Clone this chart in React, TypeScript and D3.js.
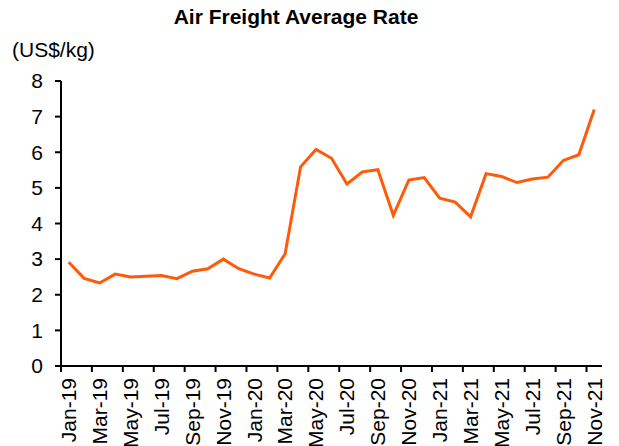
import React from "react";
import * as d3 from "d3";

const months = [
  "Jan-19","Feb-19","Mar-19","Apr-19","May-19","Jun-19","Jul-19","Aug-19","Sep-19","Oct-19","Nov-19","Dec-19",
  "Jan-20","Feb-20","Mar-20","Apr-20","May-20","Jun-20","Jul-20","Aug-20","Sep-20","Oct-20","Nov-20","Dec-20",
  "Jan-21","Feb-21","Mar-21","Apr-21","May-21","Jun-21","Jul-21","Aug-21","Sep-21","Oct-21","Nov-21",
];
const rates = [
  2.91, 2.46, 2.33, 2.58, 2.50, 2.52, 2.54, 2.45, 2.66, 2.73, 3.00, 2.73,
  2.58, 2.47, 3.15, 5.59, 6.08, 5.83, 5.11, 5.45, 5.51, 4.23, 5.22, 5.29,
  4.71, 4.60, 4.19, 5.40, 5.32, 5.15, 5.25, 5.30, 5.77, 5.93, 7.20,
];
const yTicks = [0, 1, 2, 3, 4, 5, 6, 7, 8];
const title = "Air Freight Average Rate";
const unitLabel = "(US$/kg)";

const W = 619, H = 446;
const left = 61, right = 602, top = 81, bottom = 366;
const font = "'Liberation Sans', Arial, sans-serif";

export default function App() {
  const x = d3.scaleBand<string>().domain(months).range([left, right]).paddingInner(0).paddingOuter(0);
  const y = d3.scaleLinear().domain([0, 8]).range([bottom, top]);
  const line = d3.line<number>()
    .x((_, i) => (x(months[i]) as number) + x.bandwidth() / 2)
    .y((d) => y(d));
  const tickIdx = months.map((_, i) => i).filter((i) => i % 2 === 0);
  return (
    <svg width={W} height={H} style={{ position: "absolute", left: 0, top: 0 }} fontFamily={font}>
      <rect width={W} height={H} fill="#fff" />
      <text x={296} y={24} textAnchor="middle" fontWeight="bold" fontSize={21}>{title}</text>
      <text x={12} y={57} fontSize={21}>{unitLabel}</text>
      {yTicks.map((t) => (
        <g key={t}>
          <line x1={left - 6} x2={left} y1={y(t)} y2={y(t)} stroke="#000" strokeWidth={2} />
          <text x={43} y={y(t)} dy="0.35em" textAnchor="end" fontSize={21}>{t}</text>
        </g>
      ))}
      {tickIdx.map((i) => (
        <line key={"t" + i} x1={x(months[i]) as number} x2={x(months[i]) as number} y1={bottom} y2={bottom + 6} stroke="#000" strokeWidth={2} />
      ))}
      {tickIdx.map((i) => {
        const cx = (x(months[i]) as number) + x.bandwidth() / 2;
        return (
          <text key={"l" + i} transform={`translate(${cx},${bottom + 12}) rotate(-90)`} textAnchor="end" dy="0.35em" fontSize={21}>
            {months[i]}
          </text>
        );
      })}
      <line x1={left} x2={left} y1={top} y2={bottom} stroke="#000" strokeWidth={2} />
      <line x1={left} x2={right} y1={bottom} y2={bottom} stroke="#000" strokeWidth={2} />
      <path d={line(rates) as string} fill="none" stroke="#FF5A0A" strokeWidth={3} strokeLinejoin="miter" />
    </svg>
  );
}
